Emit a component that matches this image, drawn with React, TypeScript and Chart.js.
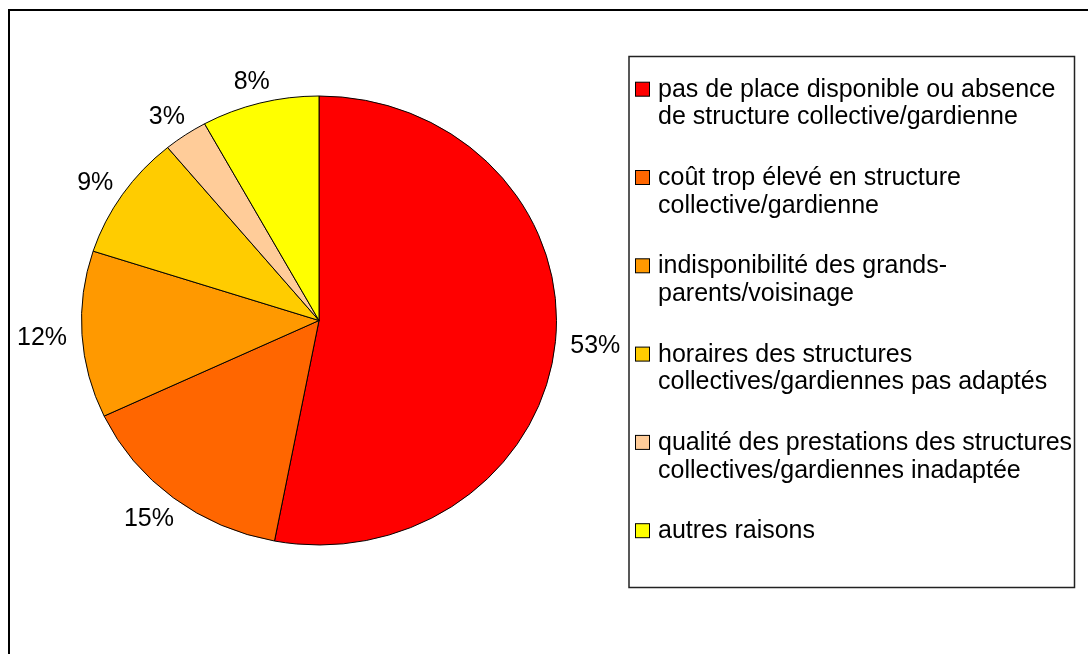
import React, { useEffect, useRef } from 'react';
import { Chart, registerables } from 'chart.js';

Chart.register(...registerables);

// ---- data ----
const categories: string[][] = [
  ['pas de place disponible ou absence', 'de structure collective/gardienne'],
  ['coût trop élevé en structure', 'collective/gardienne'],
  ['indisponibilité des grands-', 'parents/voisinage'],
  ['horaires des structures', 'collectives/gardiennes pas adaptés'],
  ['qualité des prestations des structures', 'collectives/gardiennes inadaptée'],
  ['autres raisons'],
];
const values: number[] = [53, 15, 12, 9, 3, 8];
const valueLabels: string[] = ['53%', '15%', '12%', '9%', '3%', '8%'];
const colors: string[] = ['#FF0000', '#FF6600', '#FF9900', '#FFCC00', '#FFCC99', '#FFFF00'];

const FONT = '"Liberation Sans", Arial, Helvetica, sans-serif';
const RY_RATIO = 224.5 / 237.5;

const excelPiePlugin = {
  id: 'excelPie',
  beforeDraw(chart: any) {
    const ctx = chart.ctx;
    ctx.save();
    ctx.fillStyle = '#ffffff';
    ctx.fillRect(0, 0, chart.width, chart.height);
    // outer chart border (runs past right/bottom edges)
    ctx.strokeStyle = '#000000';
    ctx.lineWidth = 2;
    ctx.strokeRect(9, 10, 1200, 800);
    ctx.restore();
  },
  beforeDatasetsDraw(chart: any) {
    const ctx = chart.ctx;
    const arc = chart.getDatasetMeta(0).data[0];
    const x = arc.x, y = arc.y;
    ctx.save();
    ctx.translate(x, y);
    ctx.scale(1, RY_RATIO);
    ctx.translate(-x, -y);
  },
  afterDatasetsDraw(chart: any) {
    const ctx = chart.ctx;
    ctx.restore();
    const meta = chart.getDatasetMeta(0);
    ctx.save();
    ctx.font = `25px ${FONT}`;
    ctx.fillStyle = '#000000';
    ctx.textAlign = 'center';
    ctx.textBaseline = 'alphabetic';
    meta.data.forEach((el: any, i: number) => {
      const p = el.getProps(['x', 'y', 'startAngle', 'endAngle', 'outerRadius'], true);
      const a = (p.startAngle + p.endAngle) / 2;
      const c = Math.cos(a), s = Math.sin(a);
      const px = p.x + c * p.outerRadius;
      const py = p.y + s * p.outerRadius * RY_RATIO;
      const text = valueLabels[i];
      const w = ctx.measureText(text).width;
      const pad = 15;
      const cx = px + c * (pad + w / 2);
      const cy = py + s * (pad + 9);
      ctx.fillText(text, cx, cy + 9);
    });
    ctx.restore();
  },
  afterDraw(chart: any) {
    const ctx = chart.ctx;
    const ds = chart.data.datasets[0];
    ctx.save();
    // legend box
    ctx.strokeStyle = '#222222';
    ctx.lineWidth = 1.5;
    ctx.strokeRect(629, 56.5, 445.5, 531);
    ctx.font = `25px ${FONT}`;
    ctx.textAlign = 'left';
    ctx.textBaseline = 'alphabetic';
    const labels: string[][] = chart.data.labels;
    labels.forEach((lines: string[], i: number) => {
      const base = 96.7 + i * 88.3;
      ctx.fillStyle = ds.backgroundColor[i];
      ctx.fillRect(635.5, base - 14.5, 14, 14);
      ctx.strokeStyle = '#000000';
      ctx.lineWidth = 1;
      ctx.strokeRect(635.5, base - 14.5, 14, 14);
      ctx.fillStyle = '#000000';
      lines.forEach((ln: string, j: number) => {
        ctx.fillText(ln, 658, base + j * 27.6);
      });
    });
    ctx.restore();
  },
};

export default function App() {
  const ref = useRef<HTMLCanvasElement | null>(null);
  useEffect(() => {
    if (!ref.current) return;
    const chart = new Chart(ref.current, {
      type: 'pie',
      data: {
        labels: categories as any,
        datasets: [
          {
            data: values,
            backgroundColor: colors,
            borderColor: '#000000',
            borderWidth: 1,
            radius: 237.5,
          } as any,
        ],
      },
      options: {
        responsive: false,
        animation: false,
        events: [],
        layout: { padding: { left: 81.5, right: 531.5, top: 83, bottom: 96 } },
        plugins: {
          legend: { display: false },
          tooltip: { enabled: false },
          title: { display: false },
        },
      },
      plugins: [excelPiePlugin],
    });
    return () => chart.destroy();
  }, []);
  return (
    <div style={{ position: 'absolute', left: 0, top: 0, width: 1088, height: 654, overflow: 'hidden' }}>
      <canvas ref={ref} width={1088} height={654} style={{ display: 'block', width: 1088, height: 654 }} />
    </div>
  );
}
